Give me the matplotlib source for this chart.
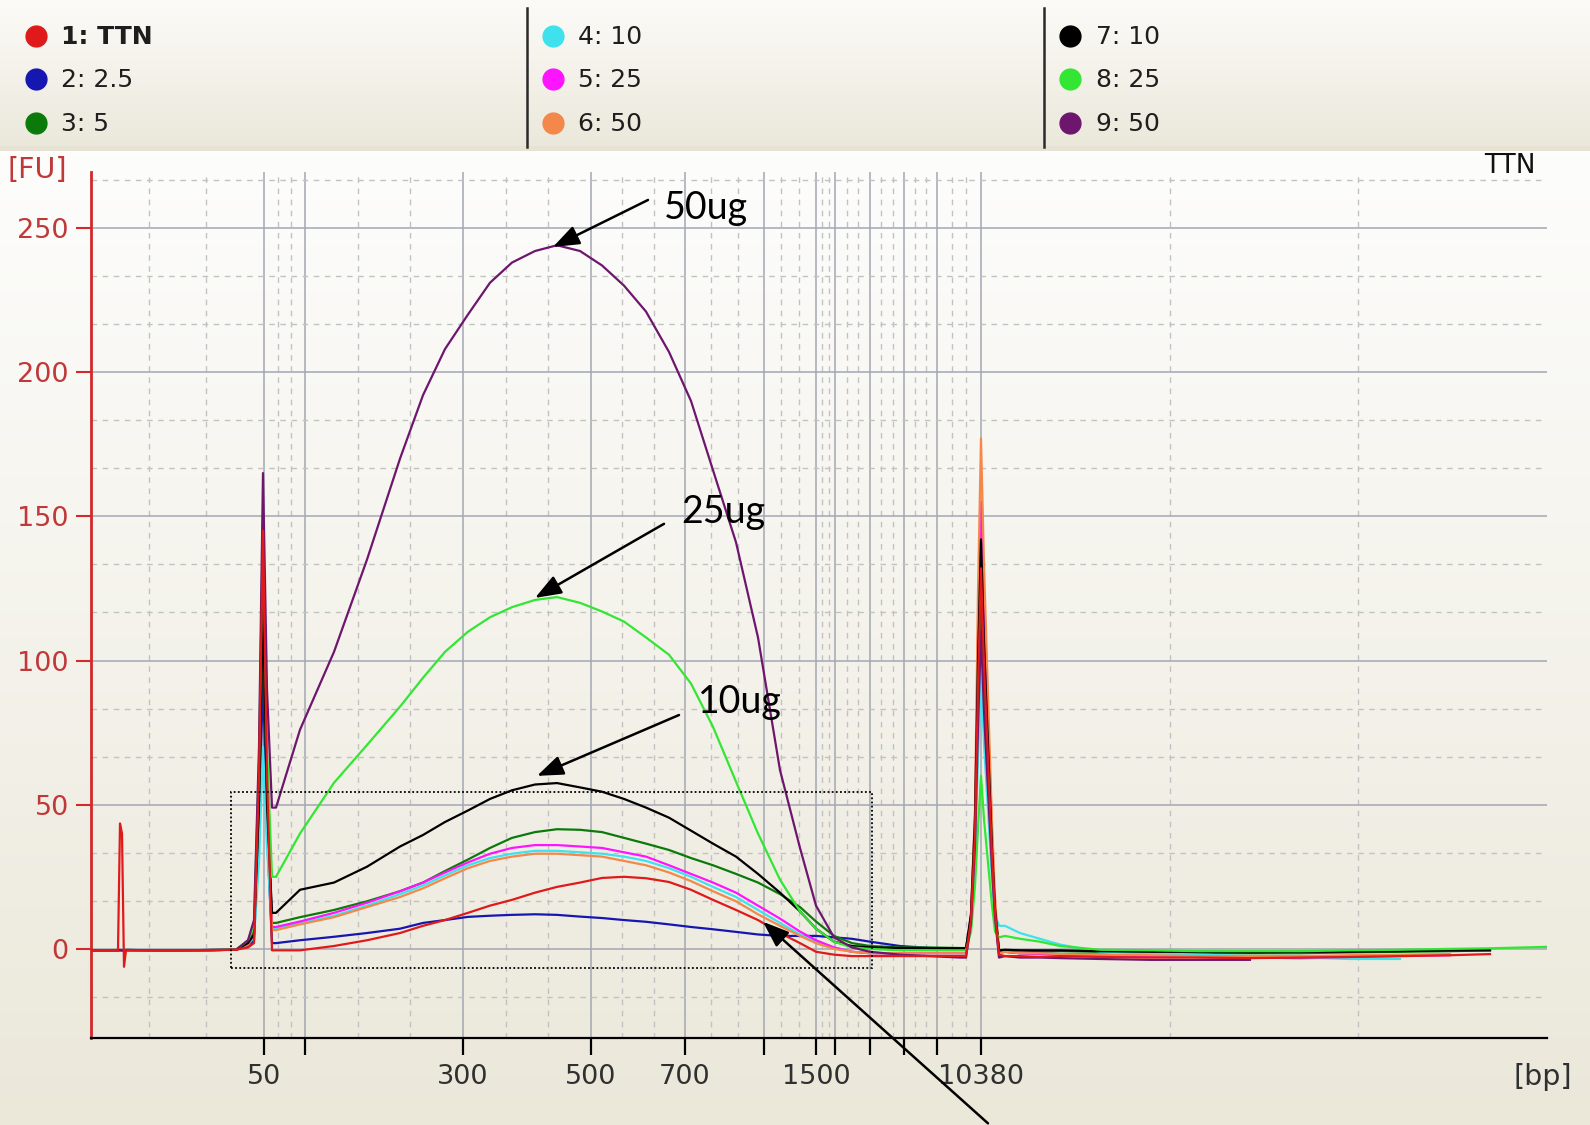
import numpy as np
import matplotlib
matplotlib.use("Agg")
import matplotlib.pyplot as plt
from matplotlib.patches import Rectangle
from matplotlib.colors import to_rgb

nan = np.nan

# migration time [s], shared by all nine samples
t_sec = [
    34.6, 35.9, 36.0, 36.1, 36.2, 36.3, 38.5, 40.5,                  # baseline
    41.8, 42.4, 42.7, 42.95, 43.15, 43.35, 43.6,                     # lower marker
    43.8, 45.0, 46.7, 48.35, 50.0, 51.15, 52.25, 53.4, 54.5, 55.6,
    56.75, 57.85, 59.0, 60.1, 61.2, 62.3, 63.45, 64.55, 65.65, 66.8,
    67.9, 69.0, 70.0, 70.8, 71.7, 72.6, 73.5, 75.0, 76.5, 78.0,      # smear
    78.3, 78.55, 78.75, 78.9, 79.05, 79.2, 79.4, 79.6, 79.75, 79.95, # upper marker
    80.25, 81.0, 82.0, 83.0, 85.0, 87.5, 90.0, 92.5, 95.0, 97.5,
    100.0, 102.5, 104.5, 107.3,                                      # tail
]

fu_1 = [-0.5, -0.5, 43.5, 40, -6.2, -0.5, -0.5, -0.5,
        -0.3, 0.5, 2, 60, 145, 60, -0.5,
        -0.5, -0.5, 1, 3, 5.5, 8, 10, 12.5, 15, 17, 19.5, 21.5, 23, 24.6, 25,
        24.5, 23.2, 20.5, 17, 13.5, 10, 5.5, 2, -1, -2, -2.5, -2.5, -2.5, -2.5, -2.5,
        -2.5, 10, 40, 92, 132, 99, 66, 33, 13, -2,
        -2.5, -2.5, -2.8, -2.5, -2.8, -3.0, -3.0, -3.2, -3.0, -2.8, -2.5, -2.2, -1.8, nan]
fu_2 = [-0.5, -0.5, -0.4, -0.5, -0.5, -0.4, -0.5, -0.4,
        -0.3, 1, 3, 40, 95, 40, 2,
        2, 3, 4.2, 5.5, 7, 9, 10, 11.1, 11.5, 11.8, 12, 11.8, 11.2, 10.7, 10,
        9.4, 8.5, 7.6, 6.8, 5.9, 5, 4.5, 4.5, 4.5, 4, 3.5, 2.5, 1, 0.3, 0,
        0, 10, 38, 84, 120, 90, 60, 30, 12, -1,
        -1, -1.5, -1.5, -1.8, -2, -2.5, -2.8, -3, -3.2, -3, nan, nan, nan, nan]
fu_3 = [-0.5, -0.5, -0.4, -0.5, -0.5, -0.4, -0.5, -0.4,
        -0.3, 2, 6, 50, 115, 50, 9,
        9, 11, 13.5, 16.5, 20, 23, 27, 31, 35, 38.5, 40.5, 41.5, 41.3, 40.5, 38.5,
        36.5, 34.3, 31.5, 29, 26, 23, 19, 14.5, 9.5, 4.5, 2, 1, 0.5, 0.5, 0.3,
        0.3, 10, 40, 88, 125, 94, 62, 31, 12, -0.5,
        -0.5, -0.5, -0.8, -0.8, -1, -1.2, -1.5, -1.5, -1.5, -1.2, -1, -0.8, -0.5, nan]
fu_4 = [-0.5, -0.5, -0.4, -0.5, -0.5, -0.4, -0.5, -0.4,
        -0.3, 1.5, 4, 30, 70, 35, 7,
        7, 9, 11.5, 15, 19, 22, 25.5, 29, 31.5, 33, 34, 34, 33.5, 33, 32,
        30.5, 28, 25, 21.5, 18, 13.5, 9, 5, 2.5, 0.5, -1, -1.5, -1.5, -1.5, -1.5,
        -1.5, 8, 30, 66, 95, 71, 48, 24, 12, 8,
        8, 5.5, 3.5, 1.5, -1, -1.5, -2, -2.5, -3, -3.5, -3.5, nan, nan, nan]
fu_5 = [-0.5, -0.5, -0.4, -0.5, -0.5, -0.4, -0.5, -0.4,
        -0.3, 1.5, 5, 60, 140, 60, 7.6,
        7.6, 9.5, 12.5, 16, 20, 23, 26.5, 30, 33, 35, 36, 36, 35.5, 35, 33.5,
        32, 29, 26, 23, 19.5, 15, 10.5, 6, 3, 0.5, -1, -1.5, -1.5, -1.5, -1.5,
        -1.5, 12, 46, 108, 155, 116, 78, 39, 15, -1.5,
        -1, -1.5, -1.8, -2, -2.2, -2.5, -2.8, -3, -3, -2.8, -2.5, -2.2, nan, nan]
fu_6 = [-0.5, -0.5, -0.4, -0.5, -0.5, -0.4, -0.5, -0.4,
        -0.3, 1.5, 5, 55, 130, 55, 6.5,
        6.5, 8.5, 11, 14.5, 18, 21, 24.5, 28, 30.5, 32, 33, 33, 32.5, 32, 30.5,
        29, 26.5, 23.5, 20, 16.5, 12, 8, 4.5, 2, 0, -1, -1.5, -1.5, -1.5, -1.5,
        -1.5, 12, 48, 124, 177, 133, 88, 44, 18, -1.5,
        -1, -1.5, -1.5, -1.8, -2, -2.2, -2.5, -2.5, -2.5, -2.2, -2, -1.8, nan, nan]
fu_7 = [-0.5, -0.5, -0.4, -0.5, -0.5, -0.4, -0.5, -0.4,
        -0.3, 2, 5, 50, 120, 50, 12.5,
        12.5, 20.5, 23, 28.5, 35.5, 39.5, 44, 48, 52, 55, 57, 57.5, 56, 54.5, 52,
        49, 45.5, 41, 36.5, 32, 26, 19.5, 13, 7, 2.5, 1, 0.5, 0.3, 0.2, 0.2,
        0.2, 12, 45, 100, 142, 106, 71, 35, 14, -0.5,
        -0.3, -0.5, -0.5, -0.5, -0.8, -1, -1, -1.2, -1, -1, -0.8, -0.5, -0.5, nan]
fu_8 = [-0.5, -0.5, -0.4, -0.5, -0.5, -0.4, -0.5, -0.4,
        -0.3, 3, 8, 65, 150, 70, 25,
        25, 40, 57.6, 70.7, 84, 94, 103, 110, 115, 118.5, 121, 122, 120, 117, 113.5,
        108, 102, 92, 77, 58, 40, 24, 13, 7, 2.5, 0.5, 0, -0.5, -0.5, -0.5,
        -0.5, 6, 22, 42, 60, 45, 30, 15, 6, 4,
        4.5, 3.5, 2.5, 1, -0.3, -0.5, -0.8, -0.8, -0.8, -0.5, -0.3, 0, 0.2, 0.7]
fu_9 = [-0.5, -0.5, -0.4, -0.5, -0.5, -0.4, -0.5, -0.4,
        -0.3, 3, 10, 70, 165, 90, 49,
        49, 76, 103, 135, 170, 192, 208, 220, 231, 238, 242, 244, 242, 237, 230,
        221, 207, 190, 166, 141, 108, 62, 35, 15, 4, 0.5, -1, -2, -2.5, -3,
        -3, 9, 36, 77, 110, 82, 55, 28, 11, -3,
        -2.5, -3, -3, -3.2, -3.5, -3.8, -3.8, -3.8, nan, nan, nan, nan, nan, nan]

samples = [fu_1, fu_2, fu_3, fu_4, fu_5, fu_6, fu_7, fu_8, fu_9]
legend_labels = ["1: TTN", "2: 2.5", "3: 5", "4: 10", "5: 25", "6: 50",
                 "7: 10", "8: 25", "9: 50"]
colors = ["#e01a1a", "#1616b0", "#0b7a0b", "#3fe2ec", "#ff14ff", "#f4884a",
          "#000000", "#33e633", "#6e166e"]

# ladder peaks (migration time -> bp)
ladder_t = [43.2, 45.25, 53.15, 59.55, 64.25, 68.2, 70.8, 71.75, 73.5, 75.2, 76.85, 79.05]
ladder_bp = [50, 100, 300, 500, 700, 1000, 1500, 2000, 3000, 5000, 7000, 10380]
shown_bp = [50, 300, 500, 700, 1500, 10380]

tick_size = 19.5

W, H = 1590, 1125
fig = plt.figure(figsize=(W / 100, H / 100), dpi=100)


def vgrad(c_top, c_bot, n=256):
    a = np.array(to_rgb(c_top))
    b = np.array(to_rgb(c_bot))
    f = np.linspace(0, 1, n)[:, None]
    return (a + (b - a) * f)[:, None, :]


# background + legend panel (pixel coords)
bg = fig.add_axes([0, 0, 1, 1], zorder=0)
bg.imshow(vgrad("#fcfbf8", "#ebe8db"), extent=(0, W, 146, 0), aspect="auto")
bg.imshow(vgrad("#fdfdfc", "#ebe8da"), extent=(0, W, H, 151), aspect="auto")
bg.add_patch(Rectangle((0, 146), W, 5, color="#e6e3d4", lw=0))
bg.set_xlim(0, W)
bg.set_ylim(H, 0)
bg.axis("off")

cols_x = [35.5, 553, 1070]
rows_y = [35.5, 79, 123]
for i, (lab, col) in enumerate(zip(legend_labels, colors)):
    cx, cy = cols_x[i // 3], rows_y[i % 3]
    bg.plot(cx, cy, "o", ms=15, color=col, mec=col)
    bg.text(cx + 25.5, cy + 1, lab, va="center", ha="left", fontsize=18,
            fontweight="bold" if i == 0 else "normal", color="#1e1e1e")
for sx in [527, 1044]:
    bg.plot([sx, sx], [8, 147], color="#2a2a2a", lw=1.8)

bg.text(8, 170, "[FU]", color="#c03838", fontsize=tick_size + 1, va="center")
bg.text(1514, 1077, "[bp]", color="#303030", fontsize=tick_size + 1, va="center")
bg.text(1536, 166, "TTN", color="#111111", fontsize=19, ha="right", va="center")

# main electropherogram
ax = fig.add_axes([91 / W, 1 - 1038 / H, (1547 - 91) / W, (1038 - 172) / H], zorder=2)
ax.patch.set_alpha(0)
xlim = (34.55, 107.35)
ylim = (-30.9, 269.4)

order = [1, 2, 3, 4, 5, 6, 7, 8, 0]
for k in order:
    ax.plot(t_sec, samples[k], color=colors[k], lw=1.6, zorder=3)

ax.set_xlim(*xlim)
ax.set_ylim(*ylim)

ax.set_xticks(ladder_t)
ax.set_xticklabels([str(b) if b in shown_bp else "" for b in ladder_bp])
edges = [xlim[0]] + ladder_t + [xlim[1]]
minor_x = []
for a, b in zip(edges[:-1], edges[1:]):
    minor_x += [a + (b - a) / 3, a + 2 * (b - a) / 3]
ax.set_xticks(minor_x, minor=True)

ax.set_yticks([0, 50, 100, 150, 200, 250])
minor_y = [v for v in np.arange(-50, 300, 50 / 3)
           if abs(v / 50 - round(v / 50)) > 0.01 and ylim[0] < v < ylim[1]]
ax.set_yticks(minor_y, minor=True)

ax.set_axisbelow(True)
ax.grid(which="major", color="#a3a7b2", lw=1.1, ls="-")
ax.grid(which="minor", color="#c2c2c2", lw=1.0, ls=(0, (4, 4)))

for s in ["top", "right"]:
    ax.spines[s].set_visible(False)
ax.spines["left"].set_color("#d02a2a")
ax.spines["left"].set_linewidth(2)
ax.spines["bottom"].set_color("black")
ax.spines["bottom"].set_linewidth(1.6)

ax.tick_params(which="minor", length=0)
ax.tick_params(axis="y", which="major", color="#d02a2a", length=11, width=1.5,
               labelcolor="#c03838", labelsize=tick_size, pad=5)
ax.tick_params(axis="x", which="major", color="black", length=12, width=1.6,
               labelcolor="#303030", labelsize=tick_size, pad=7)

# dotted zoom box and annotations
ax.add_patch(Rectangle((41.55, -6.6), 73.6 - 41.55, 61.0, fill=False,
                       ls=(0, (1, 1.3)), lw=1.3, ec="black", zorder=4))

arrow = dict(arrowstyle="-|>,head_length=0.8,head_width=0.3", color="black",
             lw=1.8, mutation_scale=20, shrinkA=0, shrinkB=0)
ann_font = dict(family=["Lato", "DejaVu Sans"], fontsize=27, color="black")
ax.annotate("", xy=(57.65, 243.4), xytext=(62.4, 259.7), arrowprops=arrow, zorder=5)
ax.text(63.2, 257, "50ug", va="center", ha="left", zorder=5, **ann_font)
ax.annotate("", xy=(56.75, 121.7), xytext=(63.2, 147.4), arrowprops=arrow, zorder=5)
ax.text(64.05, 151.5, "25ug", va="center", ha="left", zorder=5, **ann_font)
ax.annotate("", xy=(56.85, 60.0), xytext=(63.95, 81.1), arrowprops=arrow, zorder=5)
ax.text(64.9, 85.6, "10ug", va="center", ha="left", zorder=5, **ann_font)
ax.annotate("", xy=(68.15, 9.4), xytext=(79.4, -60.5), arrowprops=arrow,
            annotation_clip=False, zorder=5)

fig.savefig("out.png", dpi=100)
